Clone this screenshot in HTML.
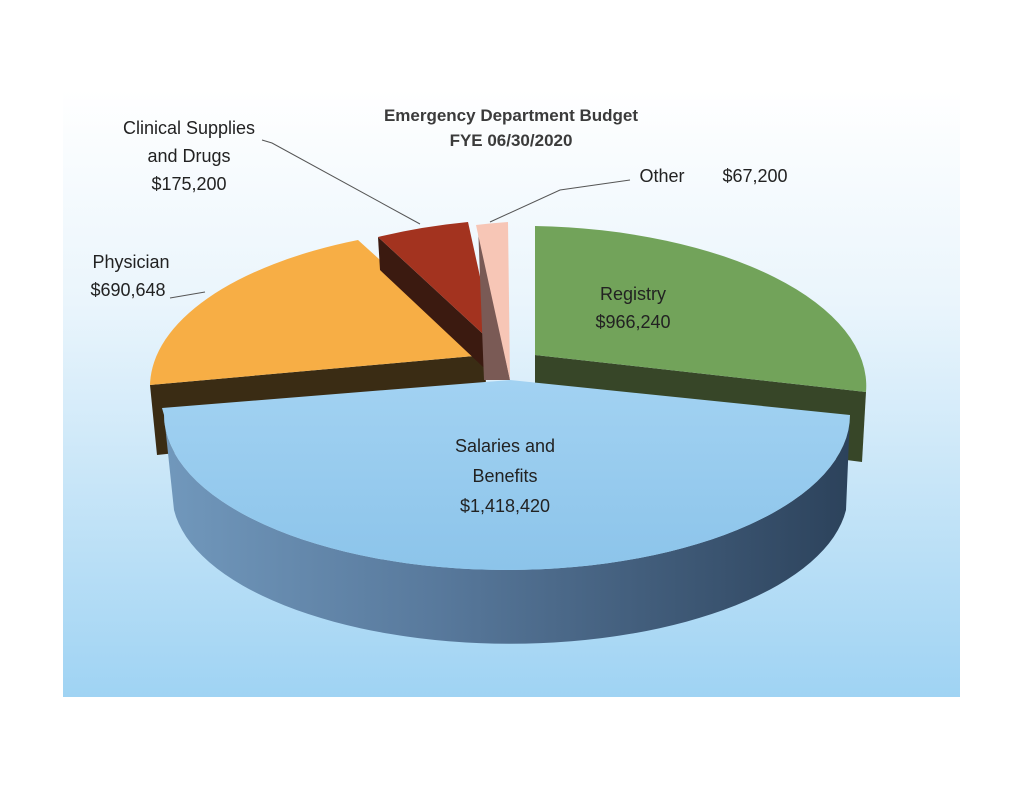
<!DOCTYPE html>
<html><head><meta charset="utf-8"><style>
html,body{margin:0;padding:0;background:#fff;}
body{width:1024px;height:790px;overflow:hidden;font-family:"Liberation Sans",sans-serif;}
</style></head><body>
<svg width="1024" height="790" viewBox="0 0 1024 790" xmlns="http://www.w3.org/2000/svg">
<defs>
<linearGradient id="bg" x1="0" y1="0" x2="0" y2="1">
<stop offset="0" stop-color="#ffffff"/><stop offset="0.35" stop-color="#eaf5fc"/><stop offset="1" stop-color="#9fd3f3"/>
</linearGradient>
<linearGradient id="side" x1="0" y1="0" x2="1" y2="0">
<stop offset="0" stop-color="#7198bc"/><stop offset="0.4" stop-color="#58799c"/><stop offset="1" stop-color="#2c425b"/>
</linearGradient>
<linearGradient id="top" x1="0" y1="0" x2="0" y2="1">
<stop offset="0" stop-color="#a2d2f2"/><stop offset="1" stop-color="#8cc4ea"/>
</linearGradient>
</defs>
<rect x="63" y="90" width="897" height="607" fill="url(#bg)"/>
<path d="M150 385 L485 355 L487 420 L157 455 Z" fill="#3a2c14"/>
<path d="M485 355 L358 240 A345 160 0 0 0 150 385 Z" fill="#f7ae45"/>
<path d="M378 237 L495 345 L497 380 L380 270 Z" fill="#3b1a10"/>
<path d="M495 345 L378 237 A345 160 0 0 1 468 222 Z" fill="#a3331f"/>
<path d="M510 380 L478 225 L484 380 Z" fill="#7a5a55"/>
<path d="M510 380 L476 225 A345 160 0 0 1 508 222 Z" fill="#f7c6b6"/>
<path d="M535 355 L866 392 L862 462 L535 420 Z" fill="#374628"/>
<path d="M535 355 L535 226 A345 160 0 0 1 866 392 Z" fill="#72a35a"/>
<path d="M164 415 A343 155 0 0 0 850 415 L846 510 A338 150 0 0 1 174 510 Z" fill="url(#side)"/>
<path d="M164 415 L162 408 L510 380 L850 415 A343 155 0 0 1 164 415 Z" fill="url(#top)"/>
<polyline points="262,140 272,143 420,224" fill="none" stroke="#555" stroke-width="1"/>
<polyline points="630,180 560,190 490,222" fill="none" stroke="#555" stroke-width="1"/>
<polyline points="170,298 205,292" fill="none" stroke="#555" stroke-width="1"/>
<g font-size="17" font-weight="bold" fill="#3b3b3b" text-anchor="middle">
<text x="511" y="121">Emergency Department Budget</text>
<text x="511" y="146">FYE 06/30/2020</text>
</g>
<g font-size="18" fill="#222" text-anchor="middle">
<text x="189" y="134">Clinical Supplies</text>
<text x="189" y="162">and Drugs</text>
<text x="189" y="190">$175,200</text>
<text x="131" y="268">Physician</text>
<text x="128" y="296">$690,648</text>
<text x="662" y="182">Other</text>
<text x="755" y="182">$67,200</text>
<text x="633" y="300">Registry</text>
<text x="633" y="328">$966,240</text>
<text x="505" y="452">Salaries and</text>
<text x="505" y="482">Benefits</text>
<text x="505" y="512">$1,418,420</text>
</g>
</svg>
</body></html>
